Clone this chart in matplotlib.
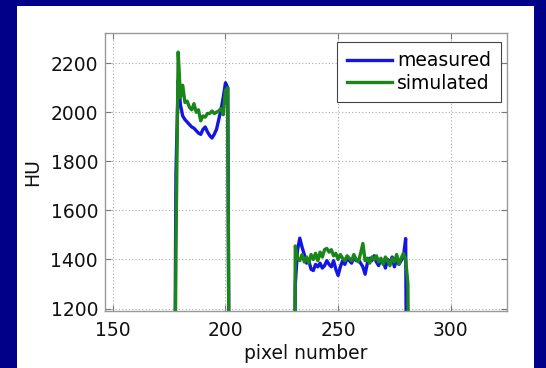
import matplotlib
matplotlib.use("Agg")
import matplotlib.pyplot as plt

# ---- data ----
pixel_obj1 = [177, 178, 179, 180, 181, 182, 183, 184, 185, 186, 187, 188, 189,
              190, 191, 192, 193, 194, 195, 196, 197, 198, 199, 200, 201, 202]
measured_obj1 = [0, 1750, 2130, 2030, 1985, 1970, 1960, 1950, 1940, 1935, 1925,
                 1915, 1910, 1930, 1940, 1920, 1905, 1895, 1910, 1930, 1970,
                 2010, 2060, 2120, 2100, 0]
simulated_obj1 = [0, 1450, 2245, 2060, 2110, 2040, 2045, 2020, 2010, 2035, 2000,
                  2010, 1965, 1985, 1980, 1995, 1995, 2005, 1995, 2000, 2005,
                  2015, 1990, 2090, 2100, 0]

pixel_obj2 = list(range(230, 283))
measured_obj2 = [0, 1300, 1440, 1487, 1450, 1420, 1385, 1395, 1360, 1355, 1380,
                 1370, 1385, 1365, 1375, 1395, 1380, 1370, 1395, 1360, 1335,
                 1370, 1395, 1380, 1405, 1395, 1385, 1410, 1395, 1400, 1385,
                 1370, 1340, 1385, 1405, 1395, 1415, 1390, 1375, 1400, 1395,
                 1365, 1400, 1385, 1410, 1370, 1400, 1380, 1395, 1410, 1485,
                 0, 0]
simulated_obj2 = [0, 1455, 1405, 1395, 1420, 1390, 1410, 1385, 1420, 1400, 1425,
                  1395, 1430, 1410, 1440, 1445, 1430, 1440, 1415, 1425, 1400,
                  1420, 1405, 1395, 1415, 1405, 1395, 1420, 1400, 1390, 1425,
                  1465, 1395, 1405, 1385, 1410, 1400, 1415, 1390, 1405, 1380,
                  1410, 1395, 1375, 1405, 1390, 1420, 1380, 1405, 1425, 1400,
                  1300, 0]

pixel = pixel_obj1 + pixel_obj2
measured = measured_obj1 + measured_obj2
simulated = simulated_obj1 + simulated_obj2

x_ticks = [150, 200, 250, 300]
y_ticks = [1200, 1400, 1600, 1800, 2000, 2200]

# ---- figure ----
plt.rcParams['font.family'] = ['DejaVu Sans']
FS = 13.5
W, H = 546, 368
fig = plt.figure(figsize=(W / 100, H / 100), dpi=100, facecolor='#000088')
bg = fig.add_axes([17 / W, 0, (534 - 17) / W, (368 - 6) / H], zorder=-10)
bg.set_facecolor('white')
bg.set_xticks([])
bg.set_yticks([])
for s in bg.spines.values():
    s.set_visible(False)

ax = fig.add_axes([105 / W, (H - 311) / H, (507 - 105) / W, (311 - 33) / H])
ax.plot(pixel, measured, color='#1414e6', lw=2.4, label='measured',
        solid_joinstyle='round')
ax.plot(pixel, simulated, color='#1a861a', lw=2.4, label='simulated',
        solid_joinstyle='round')

ax.set_xlim(146.5, 325)
ax.set_ylim(1190, 2323)
ax.set_xticks(x_ticks)
ax.set_yticks(y_ticks)
ax.grid(True, color='#aaaaaa', linestyle=(0, (1, 2)), linewidth=0.8)
ax.tick_params(direction='in', top=True, right=True, length=4, width=0.8,
               color='#777777', labelsize=FS, labelcolor='#111111')
ax.tick_params(axis='x', pad=7)
ax.tick_params(axis='y', pad=5)
for s in ax.spines.values():
    s.set_color('#999999')
    s.set_linewidth(1.0)

ax.set_xlabel('pixel number', fontsize=FS, labelpad=3, color='#111111')
ax.set_ylabel('HU', fontsize=FS, labelpad=6, color='#111111')

leg = ax.legend(loc='upper right', bbox_to_anchor=(0.984, 0.968),
                borderaxespad=0, fontsize=FS, handlelength=2.4,
                handletextpad=0.3, labelspacing=0.2, borderpad=0.5,
                fancybox=False, framealpha=1, edgecolor='#444444')
leg.get_frame().set_linewidth(0.8)

fig.savefig('out.png', dpi=100, facecolor=fig.get_facecolor())
